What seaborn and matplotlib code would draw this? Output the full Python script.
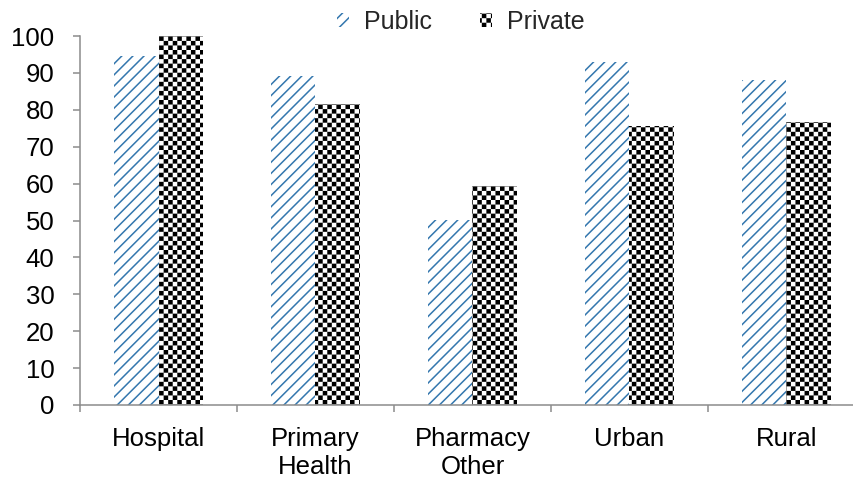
import warnings
import numpy as np
import pandas as pd
import matplotlib
matplotlib.use("Agg")
import matplotlib.pyplot as plt
import matplotlib.hatch as mhatch
from matplotlib.path import Path
from matplotlib.patches import Patch
import seaborn as sns

warnings.filterwarnings("ignore")

# ---- data ----
categories = ["Hospital", "Primary\nHealth", "Pharmacy\nOther", "Urban", "Rural"]
public_values = [94.6, 89.1, 50.1, 93.0, 88.0]
private_values = [100.0, 81.5, 59.4, 75.6, 76.7]
series_names = ["Public", "Private"]
yticks = [0, 10, 20, 30, 40, 50, 60, 70, 80, 90, 100]

BLUE = "#3477AE"
GRAY = "#8C8C8C"
HATCH_LW = 1.1  # points


class CheckerHatch(mhatch.HatchPatternBase):
    """Checkerboard fill for the hatch character 'c'."""

    def __init__(self, hatch, density):
        self.cells = 22 if "c" in hatch else 0
        n = self.cells
        self.num_squares = (n * n) // 2 if n else 0
        self.num_vertices = self.num_squares * 5

    def set_vertices_and_codes(self, vertices, codes):
        n = self.cells
        side = 1.0 / n
        # shrink so the stroke added by the renderer brings it back to size
        inset = (HATCH_LW / 72.0) / 2.0
        k = 0
        for i in range(n):
            for j in range(n):
                if (i + j) % 2:
                    continue
                x0 = i * side + inset
                y0 = j * side + inset
                x1 = (i + 1) * side - inset
                y1 = (j + 1) * side - inset
                vertices[k:k + 5] = [(x0, y0), (x1, y0), (x1, y1), (x0, y1), (x0, y0)]
                codes[k:k + 5] = [Path.MOVETO, Path.LINETO, Path.LINETO,
                                  Path.LINETO, Path.CLOSEPOLY]
                k += 5


mhatch._hatch_types.append(CheckerHatch)
mhatch._validate_hatch_pattern = lambda hatch: None

sns.set_theme(style="ticks")
plt.rcParams["font.family"] = ["Liberation Sans", "DejaVu Sans"]
plt.rcParams["hatch.linewidth"] = HATCH_LW

df = pd.DataFrame({
    "category": categories * 2,
    "sector": [series_names[0]] * len(categories) + [series_names[1]] * len(categories),
    "value": public_values + private_values,
})

fig = plt.figure(figsize=(8.54, 4.79), dpi=100)
# the plot area runs a little past the right edge of the canvas
ax = fig.add_axes([0.0937, 0.1545, 0.919, 0.7703])

sns.barplot(data=df, x="category", y="value", hue="sector", order=categories,
            hue_order=series_names, palette=["white", "white"], width=0.567,
            saturation=1, errorbar=None, legend=False, ax=ax)

styles = [("///", BLUE), ("c", "black")]
for container, (hatch, color) in zip(ax.containers, styles):
    for bar in container:
        bar.set_facecolor("white")
        bar.set_hatch(hatch)
        bar.set_edgecolor(color)
        bar.set_linewidth(0)

ax.set_ylim(0, 100)
ax.set_xlim(-0.5, len(categories) - 0.5)
ax.set_yticks(yticks)
ax.set_xlabel("")
ax.set_ylabel("")

ax.set_xticks(np.arange(len(categories) + 1) - 0.5, minor=True)
ax.tick_params(axis="x", which="major", length=0, pad=16, labelsize=18.5, colors="black")
ax.tick_params(axis="x", which="minor", length=5, width=1.1, color=GRAY, direction="out")
ax.tick_params(axis="y", length=5, width=1.1, color=GRAY, pad=13.5, labelsize=18.5,
               labelcolor="black", direction="out")

sns.despine(ax=ax)
for side in ("left", "bottom"):
    ax.spines[side].set_color(GRAY)
    ax.spines[side].set_linewidth(1.1)

handles = [
    Patch(facecolor="white", edgecolor=BLUE, hatch="///", linewidth=0, label="Public"),
    Patch(facecolor="white", edgecolor="black", hatch="c", linewidth=0, label="Private"),
]
ax.legend(handles=handles, loc="center", bbox_to_anchor=(0.485, 1.038), ncol=2,
          frameon=False, fontsize=18, handlelength=0.5, handleheight=0.5,
          handletextpad=0.6, columnspacing=1.9, borderaxespad=0)

fig.savefig("out.png", dpi=100)
